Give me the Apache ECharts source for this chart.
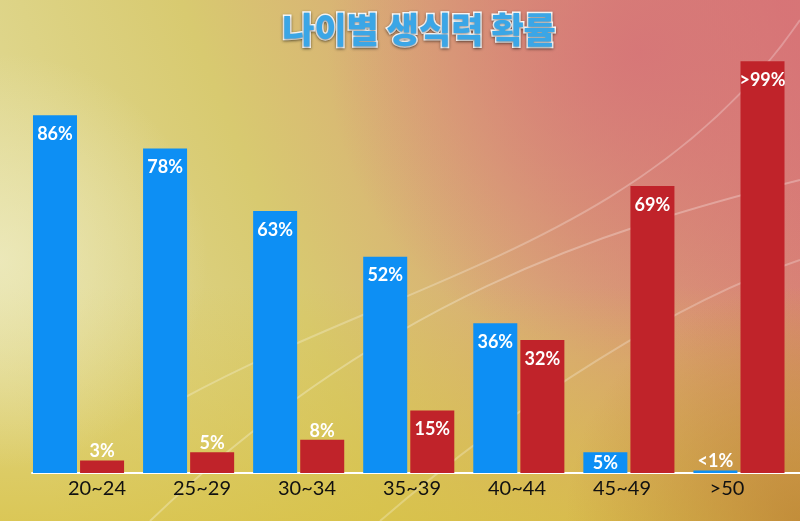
<!DOCTYPE html>
<html>
<head>
<meta charset="utf-8">
<script src="https://cdn.jsdelivr.net/npm/echarts@6/dist/echarts.min.js"></script>
<style>html,body{margin:0;padding:0;}#c{width:800px;height:521px;}</style>
</head>
<body>
<div id="c"></div>
<script>
const titleText = '나이별 생식력 확률';
const categories = ['20~24', '25~29', '30~34', '35~39', '40~44', '45~49', '>50'];
const blueValues = [86, 78, 63, 52, 36, 5, 0.6];
const redValues = [3, 5, 8, 15, 32, 69, 99];
const blueLabels = ['86%', '78%', '63%', '52%', '36%', '5%', '<1%'];
const redLabels = ['3%', '5%', '8%', '15%', '32%', '69%', '>99%'];

const chart = echarts.init(document.getElementById('c'));

const labelFont = { color: '#fff', fontFamily: 'Lato', fontWeight: 'bold', fontSize: 18 };

function makeData(values, labels) {
  return values.map((v, i) => {
    let lbl;
    if (v < 1 || (v < 10 && labels === redLabels)) {
      lbl = { position: 'top', distance: 0 };
    } else if (v < 10) {
      lbl = { position: 'insideTop', distance: 2 };
    } else {
      lbl = { position: 'insideTop', distance: 10 };
    }
    return { value: v, label: Object.assign({ formatter: labels[i] }, lbl) };
  });
}

const option = {
  animation: false,
  backgroundColor: '#dccb78',
  graphic: [
    { type: 'rect', silent: true, z: -10, shape: { x: 0, y: 0, width: 800, height: 521 },
      style: { fill: new echarts.graphic.LinearGradient(0, 0.7, 1, 0.1, [
        { offset: 0, color: '#e2dc9a' },
        { offset: 0.35, color: '#d8ca70' },
        { offset: 0.62, color: '#d9a877' },
        { offset: 1, color: '#d87676' }]) } },
    { type: 'rect', silent: true, z: -9, shape: { x: 0, y: 0, width: 800, height: 521 },
      style: { fill: new echarts.graphic.RadialGradient(0.8, 0.1, 0.6, [
        { offset: 0, color: 'rgba(214,115,120,0.85)' },
        { offset: 1, color: 'rgba(214,115,120,0)' }]) } },
    { type: 'rect', silent: true, z: -9, shape: { x: 0, y: 0, width: 800, height: 521 },
      style: { fill: new echarts.graphic.LinearGradient(0, 0, 0, 1, [
        { offset: 0.55, color: 'rgba(216,192,64,0)' },
        { offset: 1, color: 'rgba(216,192,64,0.75)' }]) } },
    { type: 'rect', silent: true, z: -9, shape: { x: 0, y: 0, width: 800, height: 521 },
      style: { fill: new echarts.graphic.RadialGradient(1, 1, 0.45, [
        { offset: 0, color: 'rgba(185,125,50,0.7)' },
        { offset: 1, color: 'rgba(185,125,50,0)' }]) } },
    { type: 'rect', silent: true, z: -9, shape: { x: 0, y: 0, width: 800, height: 521 },
      style: { fill: new echarts.graphic.RadialGradient(0, 0.5, 0.4, [
        { offset: 0, color: 'rgba(240,238,200,0.7)' },
        { offset: 1, color: 'rgba(240,238,200,0)' }]) } },
    { type: 'bezierCurve', silent: true, z: -8,
      shape: { x1: 150, y1: 521, x2: 800, y2: 180, cpx1: 380, cpy1: 300, cpx2: 600, cpy2: 230 },
      style: { stroke: 'rgba(255,255,255,0.28)', lineWidth: 2, fill: null } },
    { type: 'bezierCurve', silent: true, z: -8,
      shape: { x1: 180, y1: 400, x2: 800, y2: 20, cpx1: 400, cpy1: 280, cpx2: 650, cpy2: 240 },
      style: { stroke: 'rgba(255,255,255,0.25)', lineWidth: 2, fill: null } },
    { type: 'bezierCurve', silent: true, z: -8,
      shape: { x1: 380, y1: 521, x2: 800, y2: 260, cpx1: 520, cpy1: 400, cpx2: 680, cpy2: 300 },
      style: { stroke: 'rgba(255,255,255,0.25)', lineWidth: 2, fill: null } }
  ],
  title: {
    text: titleText,
    left: 414,
    textAlign: 'center',
    top: 7,
    textStyle: {
      fontFamily: 'Noto Sans CJK KR',
      fontWeight: 900,
      fontSize: 35,
      color: '#3ba6e6',
      textBorderColor: '#ffffff',
      textBorderWidth: 3,
      textShadowColor: 'rgba(0,0,0,0.45)',
      textShadowBlur: 3,
      textShadowOffsetY: 1
    }
  },
  grid: [
    { left: 23.5, right: 6, top: 57, bottom: 48 },
    { left: 44.5, right: 20.5, top: 57, bottom: 48 },
    { left: 32, right: 0, top: 57, bottom: 48 }
  ],
  xAxis: [
    { type: 'category', gridIndex: 0, data: categories, axisLine: { show: false }, axisTick: { show: false }, axisLabel: { show: false } },
    { type: 'category', gridIndex: 1, data: categories, axisLine: { show: false }, axisTick: { show: false },
      axisLabel: { color: '#111', fontFamily: 'Lato', fontSize: 20, margin: 6 } },
    { type: 'value', gridIndex: 2, min: 0, max: 1, axisLine: { show: true, lineStyle: { color: '#ffffff', width: 2 } },
      axisTick: { show: false }, axisLabel: { show: false }, splitLine: { show: false } }
  ],
  yAxis: [
    { type: 'value', gridIndex: 0, min: 0, max: 100, show: false },
    { type: 'value', gridIndex: 1, min: 0, max: 100, show: false },
    { type: 'value', gridIndex: 2, min: 0, max: 100, show: false }
  ],
  series: [
    { type: 'bar', xAxisIndex: 0, yAxisIndex: 0, data: makeData(blueValues, blueLabels),
      barWidth: 44, barGap: '7%', itemStyle: { color: '#0d8ff4' },
      label: Object.assign({ show: true }, labelFont), z: 3 },
    { type: 'bar', xAxisIndex: 0, yAxisIndex: 0, data: makeData(redValues, redLabels),
      barWidth: 44, barGap: '7%', itemStyle: { color: '#c0232a' },
      label: Object.assign({ show: true }, labelFont), z: 3 }
  ]
};
chart.setOption(option);
</script>
</body>
</html>
